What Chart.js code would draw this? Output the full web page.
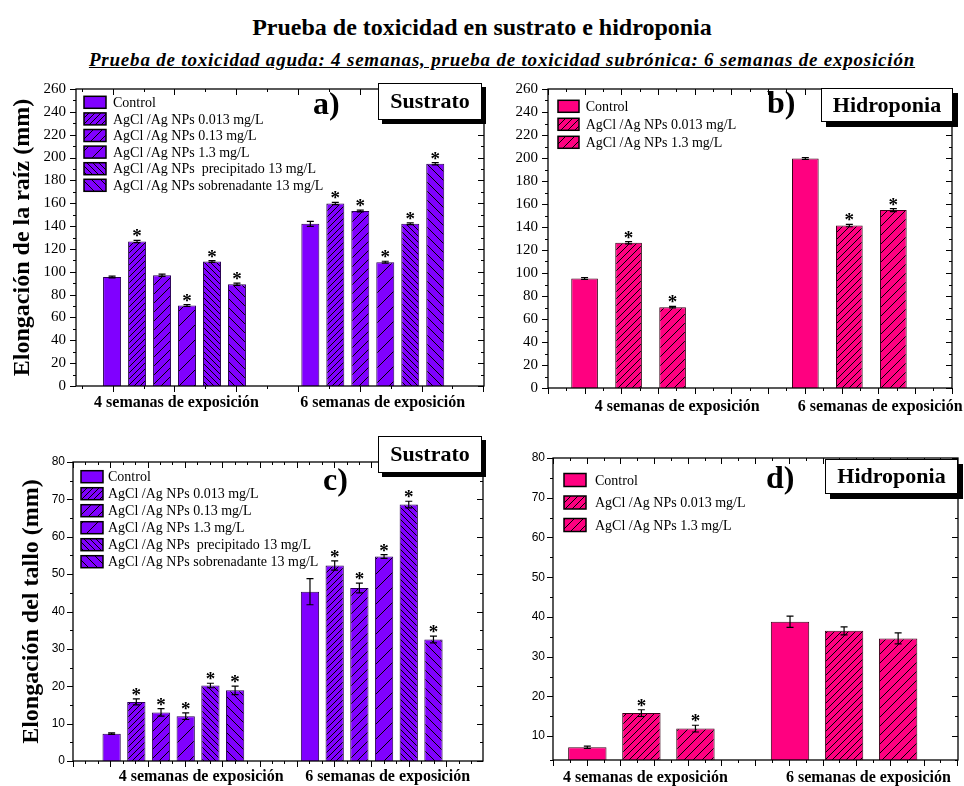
<!DOCTYPE html>
<html lang="es">
<head>
<meta charset="utf-8">
<title>Prueba de toxicidad en sustrato e hidroponia</title>
<script src="https://cdn.jsdelivr.net/npm/chart.js@4.4.1/dist/chart.umd.min.js"></script>
<style>
  html, body { margin: 0; padding: 0; background: #fff; }
  #hoja { position: relative; width: 964px; height: 786px; overflow: hidden; font-family: 'Liberation Serif', 'Times New Roman', serif; color: #000; }
  h1 { position: absolute; left: 0; top: 12px; width: 964px; margin: 0; text-align: center; font-size: 24px; line-height: 30px; font-weight: bold; }
  h2 { position: absolute; left: 40px; top: 49px; width: 924px; margin: 0; text-align: center; font-size: 19px; line-height: 22px; letter-spacing: 0.8px; font-weight: bold; font-style: italic; text-decoration: underline; }
  canvas { position: absolute; }
</style>
</head>
<body>
<div id="hoja">
  <h1>Prueba de toxicidad en sustrato e hidroponia</h1>
  <h2>Prueba de toxicidad aguda: 4 semanas, prueba de toxicidad subrónica: 6 semanas de exposición</h2>
  <canvas id="panelA" width="490" height="345" style="left:0;top:70px"></canvas>
  <canvas id="panelB" width="476" height="345" style="left:488px;top:70px"></canvas>
  <canvas id="panelC" width="490" height="361" style="left:0;top:425px"></canvas>
  <canvas id="panelD" width="476" height="361" style="left:488px;top:425px"></canvas>
</div>
<script>
const grupos = ['4 semanas de exposición', '6 semanas de exposición'];

const tratSustrato = [
  'Control',
  'AgCl /Ag NPs 0.013 mg/L',
  'AgCl /Ag NPs 0.13 mg/L',
  'AgCl /Ag NPs 1.3 mg/L',
  'AgCl /Ag NPs  precipitado 13 mg/L',
  'AgCl /Ag NPs sobrenadante 13 mg/L'
];
const tratHidroponia = [
  'Control',
  'AgCl /Ag NPs 0.013 mg/L',
  'AgCl /Ag NPs 1.3 mg/L'
];

// cada fila es un tratamiento: [4 semanas, 6 semanas]
// elongación de la raíz (mm) en sustrato
const raizSustrato    = [[95.4, 142.0], [126.5, 159.8], [96.9, 153.2], [70.4, 108.4], [109.0, 142.0], [89.1, 194.6]];
const raizSustratoErr = [[0.8, 2.2], [1.0, 1.0], [1.0, 0.8], [0.8, 0.8], [0.8, 0.8], [1.0, 1.0]];
const raizSustratoSig = [[0, 0], [1, 1], [0, 1], [1, 1], [1, 1], [1, 1]];

// elongación de la raíz (mm) en hidroponia
const raizHidro    = [[95.3, 199.5], [126.3, 141.2], [70.3, 154.7]];
const raizHidroErr = [[0.8, 0.8], [1.0, 1.0], [0.7, 1.3]];
const raizHidroSig = [[0, 0], [1, 1], [1, 1]];

// elongación del tallo (mm) en sustrato
const talloSustrato    = [[7.3, 45.3], [15.8, 52.3], [13.0, 46.3], [12.0, 54.7], [20.2, 68.6], [18.9, 32.5]];
const talloSustratoErr = [[0.2, 3.5], [0.8, 1.25], [1.0, 1.3], [0.9, 0.5], [0.6, 0.9], [1.15, 0.9]];
const talloSustratoSig = [[0, 0], [1, 1], [1, 1], [1, 1], [1, 1], [1, 1]];

// elongación del tallo (mm) en hidroponia
const talloHidro    = [[7.2, 38.8], [15.8, 36.5], [11.9, 34.6]];
const talloHidroErr = [[0.3, 1.4], [0.85, 1.0], [0.85, 1.4]];
const talloHidroSig = [[0, 0], [1, 0], [1, 0]];

const MORADO = '#8000ff';
const ROSA = '#ff0080';
const SERIF = "'Liberation Serif', 'Times New Roman', serif";
const SANS = "'Liberation Sans', Arial, sans-serif";

// tramas: [dirección, separación en px]
const tramasSustrato = [null, ['/', 6], ['/', 9], ['/', 15], ['\\', 6], ['\\', 9]];
const tramasHidro = [null, ['/', 7], ['/', 9]];

function rayado(ctx, color, trama) {
  if (!trama) return color;
  const [dir, paso] = trama;
  const c = document.createElement('canvas');
  c.width = paso; c.height = paso;
  const g = c.getContext('2d');
  g.fillStyle = color;
  g.fillRect(0, 0, paso, paso);
  g.strokeStyle = '#000';
  g.lineWidth = 1;
  g.beginPath();
  for (let k = -1; k <= 1; k++) {
    if (dir === '/') { g.moveTo(k * paso, paso); g.lineTo(k * paso + paso, 0); }
    else { g.moveTo(k * paso, 0); g.lineTo(k * paso + paso, paso); }
  }
  g.stroke();
  return ctx.createPattern(c, 'repeat');
}

// marco, marcas de ejes, barras de error, asteriscos, leyenda y rótulos
const decor = {
  id: 'decor',
  afterDraw(chart, args, o) {
    const ctx = chart.ctx, a = chart.chartArea;
    const xs = chart.scales.x, ys = chart.scales.y;
    ctx.save();

    // barras de error y asteriscos
    chart.data.datasets.forEach((ds, i) => {
      chart.getDatasetMeta(i).data.forEach((bar, j) => {
        const v = ds.data[j].y, e = ds.errores[j];
        const yt = ys.getPixelForValue(v + e), yb = ys.getPixelForValue(v - e);
        ctx.strokeStyle = '#000';
        ctx.lineWidth = 1.2;
        ctx.beginPath();
        ctx.moveTo(bar.x, yt); ctx.lineTo(bar.x, yb);
        ctx.moveTo(bar.x - o.cap, yt); ctx.lineTo(bar.x + o.cap, yt);
        ctx.moveTo(bar.x - o.cap, yb); ctx.lineTo(bar.x + o.cap, yb);
        ctx.stroke();
        if (ds.signif[j]) {
          ctx.fillStyle = '#000';
          ctx.font = 'bold 19px ' + SERIF;
          ctx.textAlign = 'center';
          ctx.textBaseline = 'alphabetic';
          ctx.fillText('*', bar.x, yt + 2);
        }
      });
    });

    // marco
    ctx.strokeStyle = '#000';
    ctx.lineWidth = 1.3;
    ctx.strokeRect(a.left, a.top, a.right - a.left, a.bottom - a.top);

    // marcas del eje y (hacia fuera a la izquierda, hacia dentro a la derecha)
    ctx.lineWidth = 1;
    ctx.beginPath();
    ys.ticks.forEach(t => {
      const y = Math.round(ys.getPixelForValue(t.value)) + 0.5;
      const l = t.label !== '' ? 6 : 3;
      ctx.moveTo(a.left - l, y); ctx.lineTo(a.left, y);
      ctx.moveTo(a.right, y); ctx.lineTo(a.right - l, y);
    });
    // marcas del eje x
    const xt = o.xTicks;
    for (let k = 0, v = xt.start; v <= xs.max + 1e-6; k++, v = xt.start + k * xt.step) {
      const x = Math.round(xs.getPixelForValue(v)) + 0.5;
      const l = (k % xt.every) === xt.phase ? 6 : 3;
      ctx.moveTo(x, a.bottom); ctx.lineTo(x, a.bottom + l);
      ctx.moveTo(x, a.top); ctx.lineTo(x, a.top + l);
    }
    ctx.stroke();

    // rótulos bajo el eje x
    ctx.fillStyle = '#000';
    ctx.font = 'bold 16px ' + SERIF;
    ctx.textAlign = 'center';
    ctx.textBaseline = 'middle';
    o.etiquetas.forEach((txt, i) => {
      ctx.fillText(txt, xs.getPixelForValue(o.posEtiquetas[i]), a.bottom + o.etiquetaDy);
    });

    // leyenda
    const L = o.leyenda;
    chart.data.datasets.forEach((ds, i) => {
      const yc = a.top + L.y + i * L.paso;
      const xb = a.left + L.x;
      ctx.fillStyle = ds.backgroundColor;
      ctx.fillRect(xb, yc - L.h / 2, L.w, L.h);
      ctx.strokeStyle = '#000';
      ctx.lineWidth = 1.5;
      ctx.strokeRect(xb, yc - L.h / 2, L.w, L.h);
      ctx.fillStyle = '#000';
      ctx.font = '14px ' + SERIF;
      ctx.textAlign = 'left';
      ctx.textBaseline = 'middle';
      ctx.fillText(ds.label, xb + L.texto, yc + 1);
    });

    // letra del panel
    ctx.font = 'bold 32px ' + SERIF;
    ctx.textAlign = 'left';
    ctx.textBaseline = 'alphabetic';
    ctx.fillText(o.letra.texto, o.letra.x, o.letra.y);

    // recuadro con sombra
    const b = o.caja;
    ctx.fillStyle = '#000';
    ctx.fillRect(b.x + b.sombra, b.y + b.sombra, b.w, b.h);
    ctx.fillStyle = '#fff';
    ctx.fillRect(b.x, b.y, b.w, b.h);
    ctx.lineWidth = 1;
    ctx.strokeStyle = '#000';
    ctx.strokeRect(b.x + 0.5, b.y + 0.5, b.w - 1, b.h - 1);
    ctx.fillStyle = '#000';
    ctx.font = 'bold 22px ' + SERIF;
    ctx.textAlign = 'center';
    ctx.textBaseline = 'middle';
    ctx.fillText(b.texto, b.x + b.w / 2, b.y + b.h / 2 + 1);

    ctx.restore();
  }
};

function crearPanel(id, p) {
  const ctx = document.getElementById(id).getContext('2d');
  const datasets = p.trat.map((nombre, i) => ({
    label: nombre,
    data: p.val[i].map((v, j) => ({ x: j + 1, y: v })),
    errores: p.err[i],
    signif: p.sig[i],
    backgroundColor: rayado(ctx, p.color, p.tramas[i]),
    borderColor: p.borde,
    borderWidth: 1
  }));
  return new Chart(ctx, {
    type: 'bar',
    data: { datasets },
    plugins: [decor],
    options: {
      responsive: false,
      animation: false,
      layout: { padding: { top: p.padTop, right: p.padRight, left: 0, bottom: 0 } },
      datasets: { bar: { categoryPercentage: p.cat, barPercentage: p.bar } },
      plugins: {
        legend: { display: false },
        tooltip: { enabled: false },
        decor: p.decor
      },
      scales: {
        x: {
          type: 'linear',
          offset: false,
          min: p.xmin,
          max: p.xmax,
          afterBuildTicks: s => { s.ticks = [{ value: 1 }, { value: 2 }]; },
          afterFit: s => { s.height = p.xH; },
          ticks: { display: false },
          grid: { display: false, offset: false },
          border: { display: false }
        },
        y: {
          min: p.ymin,
          max: p.ymax,
          afterFit: s => { s.width = p.yW; },
          ticks: {
            stepSize: p.ystep,
            autoSkip: false,
            padding: p.yPad,
            color: '#000',
            font: p.yFont,
            callback: v => (v % p.ymajor === 0 ? v : '')
          },
          grid: { display: false, drawTicks: false },
          border: { display: false },
          title: p.titulo ? {
            display: true,
            text: p.titulo,
            color: '#000',
            font: { family: SERIF, size: 24, weight: 'bold' },
            padding: { top: p.tituloPad, bottom: 0 }
          } : { display: false }
        }
      }
    }
  });
}

crearPanel('panelA', {
  trat: tratSustrato, val: raizSustrato, err: raizSustratoErr, sig: raizSustratoSig,
  color: MORADO, borde: '#2a0055', tramas: tramasSustrato,
  padTop: 14, padRight: 6, yW: 76, xH: 29,
  xmin: 0.503, xmax: 2.561, cat: 0.756, bar: 0.72,
  ymin: 0, ymax: 260, ystep: 10, ymajor: 20, yPad: 10,
  yFont: { family: SERIF, size: 15 },
  titulo: 'Elongación de la raíz (mm)', tituloPad: 8.5,
  decor: {
    cap: 3.5,
    xTicks: { start: 0.532, step: 0.1558, every: 2, phase: 1 },
    etiquetas: grupos, posEtiquetas: [1.01, 2.05], etiquetaDy: 17,
    leyenda: { x: 8, y: 13.3, paso: 16.6, w: 22, h: 12, texto: 29 },
    letra: { texto: 'a)', x: 313, y: 44 },
    caja: { texto: 'Sustrato', x: 378, y: 13, w: 104, h: 37, sombra: 4 }
  }
});

crearPanel('panelB', {
  trat: tratHidroponia, val: raizHidro, err: raizHidroErr, sig: raizHidroSig,
  color: ROSA, borde: '#3a0018', tramas: tramasHidro,
  padTop: 16, padRight: 12, yW: 60, xH: 27,
  xmin: 0.635, xmax: 2.465, cat: 0.598, bar: 0.606,
  ymin: 0, ymax: 260, ystep: 10, ymajor: 20, yPad: 10,
  yFont: { family: SERIF, size: 15 },
  titulo: null,
  decor: {
    cap: 3.5,
    xTicks: { start: 0.635, step: 0.0831, every: 2, phase: 0 },
    etiquetas: grupos, posEtiquetas: [1.22, 2.14], etiquetaDy: 19,
    leyenda: { x: 10, y: 17.3, paso: 18, w: 21, h: 12, texto: 27.7 },
    letra: { texto: 'b)', x: 279, y: 43 },
    caja: { texto: 'Hidroponia', x: 333, y: 18, w: 132, h: 34, sombra: 5 }
  }
});

crearPanel('panelC', {
  trat: tratSustrato, val: talloSustrato, err: talloSustratoErr, sig: talloSustratoSig,
  color: MORADO, borde: '#2a0055', tramas: tramasSustrato,
  padTop: 37, padRight: 7, yW: 73, xH: 25,
  xmin: 0.494, xmax: 2.561, cat: 0.747, bar: 0.74,
  ymin: 0, ymax: 80, ystep: 5, ymajor: 10, yPad: 8,
  yFont: { family: SANS, size: 12 },
  titulo: 'Elongación del tallo (mm)', tituloPad: 17.5,
  decor: {
    cap: 3.5,
    xTicks: { start: 0.494, step: 0.0627, every: 3, phase: 0 },
    etiquetas: grupos, posEtiquetas: [1.14, 2.08], etiquetaDy: 16.3,
    leyenda: { x: 8, y: 14.7, paso: 17, w: 22, h: 12, texto: 27 },
    letra: { texto: 'c)', x: 323, y: 65 },
    caja: { texto: 'Sustrato', x: 378, y: 11, w: 104, h: 37, sombra: 4 }
  }
});

crearPanel('panelD', {
  trat: tratHidroponia, val: talloHidro, err: talloHidroErr, sig: talloHidroSig,
  color: ROSA, borde: '#3a0018', tramas: tramasHidro,
  padTop: 33, padRight: 6, yW: 65, xH: 26,
  xmin: 0.564, xmax: 2.562, cat: 0.80, bar: 0.71,
  ymin: 4, ymax: 80, ystep: 5, ymajor: 10, yPad: 8,
  yFont: { family: SANS, size: 12 },
  titulo: null,
  decor: {
    cap: 3.5,
    xTicks: { start: 0.564, step: 0.0831, every: 2, phase: 0 },
    etiquetas: grupos, posEtiquetas: [1.02, 2.12], etiquetaDy: 18.3,
    leyenda: { x: 11, y: 22, paso: 22.5, w: 22, h: 13, texto: 31 },
    letra: { texto: 'd)', x: 278, y: 63 },
    caja: { texto: 'Hidroponia', x: 337, y: 34, w: 133, h: 35, sombra: 5 }
  }
});
</script>
</body>
</html>
